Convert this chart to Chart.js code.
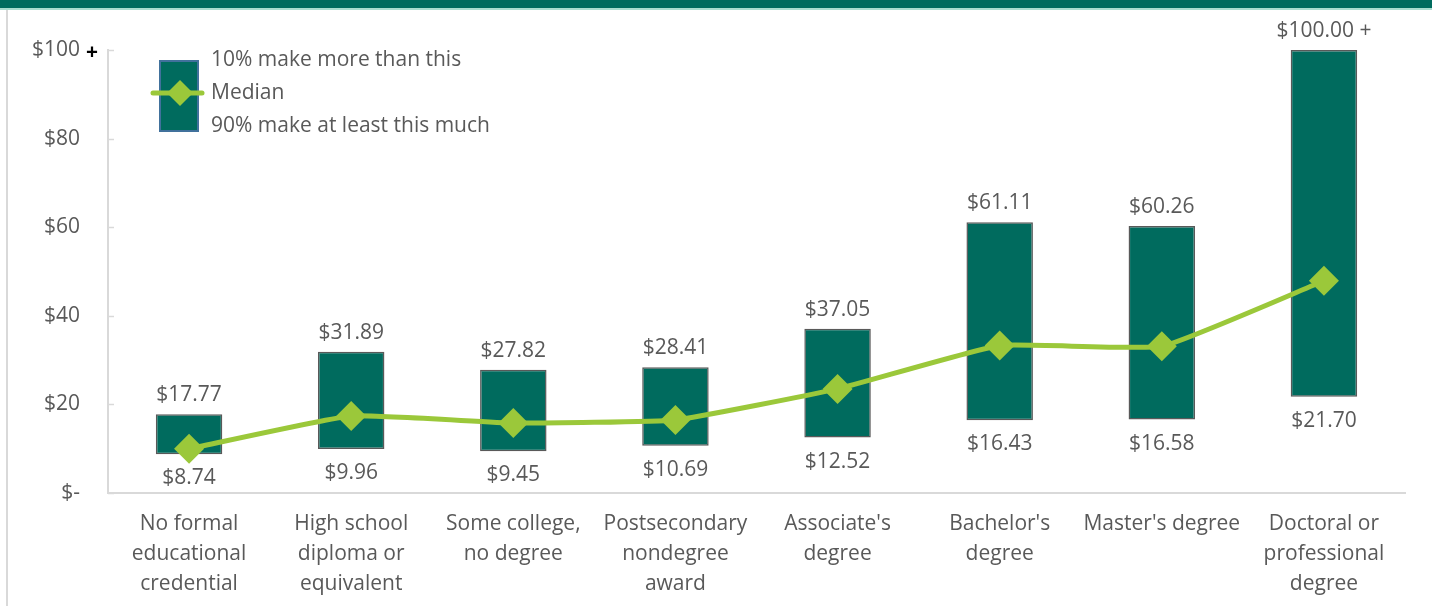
<!DOCTYPE html>
<html>
<head>
<meta charset="utf-8">
<script src="https://cdn.jsdelivr.net/npm/chart.js@4.4.1/dist/chart.umd.min.js"></script>
<style>
  html, body { margin: 0; padding: 0; background: #fff; }
  #wrap { position: relative; width: 1432px; height: 606px; overflow: hidden; }
  #topBand { position: absolute; left: 0; top: 0; width: 1432px; height: 8px; background: #006b5e; }
  #topLine { position: absolute; left: 0; top: 8px; width: 1432px; height: 2px; background: #a9dccf; }
  #leftLine { position: absolute; left: 6px; top: 10px; width: 2px; height: 596px; background: #d9d9d9; }
  canvas { position: absolute; left: 0; top: 0; }
</style>
</head>
<body>
<div id="wrap">
  <canvas id="grafico" width="1432" height="606"></canvas>
  <div id="topBand"></div>
  <div id="topLine"></div>
  <div id="leftLine"></div>
</div>
<script>
// Dados (salário por hora)
const categorias = [
  ["No formal", "educational", "credential"],
  ["High school", "diploma or", "equivalent"],
  ["Some college,", "no degree"],
  ["Postsecondary", "nondegree", "award"],
  ["Associate's", "degree"],
  ["Bachelor's", "degree"],
  ["Master's degree"],
  ["Doctoral or", "professional", "degree"]
];
const top10 = [17.77, 31.89, 27.82, 28.41, 37.05, 61.11, 60.26, 100.00];
const base90 = [8.74, 9.96, 9.45, 10.69, 12.52, 16.43, 16.58, 21.70];
const mediana = [10.0, 17.4, 15.8, 16.5, 23.5, 33.3, 33.1, 47.9];
const ticksY = [0, 20, 40, 60, 80, 100];
const legendaTextos = ["10% make more than this", "Median", "90% make at least this much"];

const FONTE = "'Open Sans', 'Noto Sans', sans-serif";
const TAM = 21;
const CINZA = '#595959';
const VERDE = '#006b5e';
const LIMA = '#9bc83a';

function dinheiro(v) {
  return '$' + v.toFixed(2);
}

// Rótulos acima e abaixo das barras
const rotulosPlugin = {
  id: 'rotulos',
  afterDatasetsDraw(chart) {
    const ctx = chart.ctx;
    const meta = chart.getDatasetMeta(0);
    ctx.save();
    ctx.font = TAM + 'px ' + FONTE;
    ctx.fillStyle = CINZA;
    ctx.textAlign = 'center';
    ctx.textBaseline = 'middle';
    meta.data.forEach((bar, i) => {
      let txtTopo = dinheiro(top10[i]);
      if (i === top10.length - 1) txtTopo += ' +';
      ctx.fillText(txtTopo, bar.x, bar.y - 19);
      ctx.fillText(dinheiro(base90[i]), bar.x, bar.base + 24);
    });
    ctx.restore();
  }
};

// Legenda desenhada dentro da área do gráfico + detalhes do eixo
const legendaPlugin = {
  id: 'legendaCustom',
  afterDraw(chart) {
    const ctx = chart.ctx;
    const y = chart.scales.y;
    const area = chart.chartArea;
    ctx.save();

    // marcas internas do eixo Y
    ctx.strokeStyle = '#d9d9d9';
    ctx.lineWidth = 1.5;
    ticksY.forEach(t => {
      const py = Math.round(y.getPixelForValue(t)) + 0.5;
      ctx.beginPath();
      ctx.moveTo(area.left, py);
      ctx.lineTo(area.left + 6, py);
      ctx.stroke();
    });

    // "+" ao lado de $100
    ctx.fillStyle = '#000';
    ctx.font = 'bold 21px ' + FONTE;
    ctx.textAlign = 'center';
    ctx.textBaseline = 'middle';
    ctx.fillText('+', area.left - 16, y.getPixelForValue(100) + 3);

    // legenda
    const lx = 160, ly = 61;
    ctx.fillStyle = VERDE;
    ctx.fillRect(lx, ly, 38, 70);
    ctx.strokeStyle = '#41719c';
    ctx.lineWidth = 2;
    ctx.strokeRect(lx, ly, 38, 70);

    ctx.strokeStyle = LIMA;
    ctx.lineWidth = 5;
    ctx.lineCap = 'round';
    ctx.beginPath();
    ctx.moveTo(153, 93);
    ctx.lineTo(202, 93);
    ctx.stroke();
    ctx.fillStyle = LIMA;
    ctx.beginPath();
    ctx.moveTo(180, 80);
    ctx.lineTo(193, 93);
    ctx.lineTo(180, 106);
    ctx.lineTo(167, 93);
    ctx.closePath();
    ctx.fill();

    ctx.fillStyle = CINZA;
    ctx.font = TAM + 'px ' + FONTE;
    ctx.textAlign = 'left';
    legendaTextos.forEach((t, i) => {
      ctx.fillText(t, 211, 60 + i * 33);
    });
    ctx.restore();
  }
};

new Chart(document.getElementById('grafico'), {
  data: {
    labels: categorias,
    datasets: [
      {
        type: 'bar',
        label: 'Faixa',
        data: top10.map((v, i) => [base90[i], v]),
        backgroundColor: VERDE,
        borderColor: CINZA,
        borderWidth: 1.5,
        borderSkipped: false,
        barPercentage: 0.82,
        categoryPercentage: 0.5,
        order: 1
      },
      {
        type: 'line',
        label: 'Median',
        data: mediana,
        borderColor: LIMA,
        backgroundColor: LIMA,
        borderWidth: 5,
        pointStyle: 'rectRot',
        pointRadius: 15,
        pointHoverRadius: 15,
        pointBorderWidth: 0,
        tension: 0.12,
        order: 0
      }
    ]
  },
  options: {
    responsive: false,
    animation: false,
    layout: { padding: { top: 50, right: 27, bottom: 0, left: 0 } },
    plugins: {
      legend: { display: false },
      tooltip: { enabled: false }
    },
    scales: {
      x: {
        grid: { display: false, drawTicks: false },
        border: { color: '#d9d9d9', width: 2 },
        ticks: {
          color: CINZA,
          font: { family: FONTE, size: TAM, lineHeight: 1.43 },
          padding: 16,
          maxRotation: 0,
          autoSkip: false
        },
        afterFit(scale) { scale.height = 606 - 493; }
      },
      y: {
        min: 0,
        max: 100,
        grid: { display: false, drawTicks: false },
        border: { color: '#d9d9d9', width: 2 },
        afterBuildTicks(scale) {
          scale.ticks = ticksY.map(v => ({ value: v }));
        },
        ticks: {
          color: CINZA,
          font: { family: FONTE, size: TAM },
          padding: 28,
          callback: v => v === 0 ? '$-' : '$' + v
        },
        afterFit(scale) { scale.width = 108; }
      }
    }
  },
  plugins: [rotulosPlugin, legendaPlugin]
});
</script>
</body>
</html>
